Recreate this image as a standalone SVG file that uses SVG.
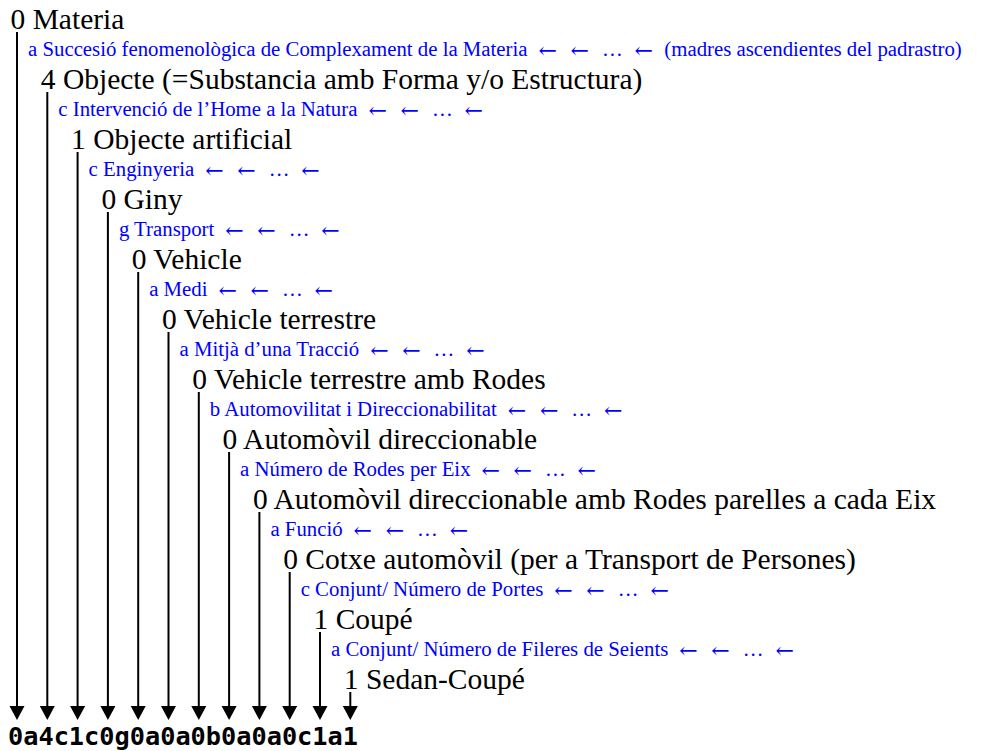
<svg xmlns="http://www.w3.org/2000/svg" width="989" height="751" viewBox="0 0 989 751">
<style>
.n{font-family:"Liberation Serif","Times New Roman",serif;font-size:29.5px;fill:#000}
.c{font-family:"Liberation Serif","Times New Roman",serif;font-size:20.8px;fill:#0000ff}
.ar{font-family:"DejaVu Serif",serif;font-size:22px}
.code{font-family:"DejaVu Sans Mono","Liberation Mono",monospace;font-weight:bold;font-size:25px;fill:#000}
.ln{stroke:#000;stroke-width:2;fill:none;marker-end:url(#ah)}
</style>
<defs>
<marker id="ah" markerUnits="userSpaceOnUse" markerWidth="15" markerHeight="16" viewBox="0 0 15 16" refX="0" refY="7.5" orient="auto">
<path d="M0,0 L14,7.5 L0,15 z" fill="#000"/>
</marker>
</defs>
<rect width="989" height="751" fill="#fff"/>
<g id="connectors">
<line class="ln" x1="17" y1="32" x2="17" y2="706"/>
<line class="ln" x1="47.3" y1="92" x2="47.3" y2="706"/>
<line class="ln" x1="77.6" y1="152" x2="77.6" y2="706"/>
<line class="ln" x1="107.9" y1="212" x2="107.9" y2="706"/>
<line class="ln" x1="138.2" y1="272" x2="138.2" y2="706"/>
<line class="ln" x1="168.5" y1="332" x2="168.5" y2="706"/>
<line class="ln" x1="198.8" y1="392" x2="198.8" y2="706"/>
<line class="ln" x1="229.1" y1="452" x2="229.1" y2="706"/>
<line class="ln" x1="259.4" y1="512" x2="259.4" y2="706"/>
<line class="ln" x1="289.7" y1="572" x2="289.7" y2="706"/>
<line class="ln" x1="320" y1="632" x2="320" y2="706"/>
<line class="ln" x1="350.3" y1="692" x2="350.3" y2="706"/>
</g>
<g id="node0"><text class="n" x="10.5" y="29">0 Materia</text></g>
<g id="crit0"><text class="c" x="28" y="56">a Succesió fenomenològica de Complexament de la Materia<tspan class="ar" dx="11" dy="1.5">←</tspan><tspan class="ar" dx="13.6">←</tspan><tspan dx="13" dy="-1.5">…</tspan><tspan class="ar" dx="11.8" dy="1.5">←</tspan><tspan dx="11.3" dy="-1.5">(madres ascendientes del padrastro)</tspan></text></g>
<g id="node1"><text class="n" x="40.8" y="89">4 Objecte (=Substancia amb Forma y/o Estructura)</text></g>
<g id="crit1"><text class="c" x="58.3" y="116">c Intervenció de l’Home a la Natura<tspan class="ar" dx="11" dy="1.5">←</tspan><tspan class="ar" dx="13.6">←</tspan><tspan dx="13" dy="-1.5">…</tspan><tspan class="ar" dx="11.8" dy="1.5">←</tspan></text></g>
<g id="node2"><text class="n" x="71.1" y="149">1 Objecte artificial</text></g>
<g id="crit2"><text class="c" x="88.6" y="176">c Enginyeria<tspan class="ar" dx="11" dy="1.5">←</tspan><tspan class="ar" dx="13.6">←</tspan><tspan dx="13" dy="-1.5">…</tspan><tspan class="ar" dx="11.8" dy="1.5">←</tspan></text></g>
<g id="node3"><text class="n" x="101.4" y="209">0 Giny</text></g>
<g id="crit3"><text class="c" x="118.9" y="236">g Transport<tspan class="ar" dx="11" dy="1.5">←</tspan><tspan class="ar" dx="13.6">←</tspan><tspan dx="13" dy="-1.5">…</tspan><tspan class="ar" dx="11.8" dy="1.5">←</tspan></text></g>
<g id="node4"><text class="n" x="131.7" y="269">0 Vehicle</text></g>
<g id="crit4"><text class="c" x="149.2" y="296">a Medi<tspan class="ar" dx="11" dy="1.5">←</tspan><tspan class="ar" dx="13.6">←</tspan><tspan dx="13" dy="-1.5">…</tspan><tspan class="ar" dx="11.8" dy="1.5">←</tspan></text></g>
<g id="node5"><text class="n" x="162" y="329">0 Vehicle terrestre</text></g>
<g id="crit5"><text class="c" x="179.5" y="356">a Mitjà d’una Tracció<tspan class="ar" dx="11" dy="1.5">←</tspan><tspan class="ar" dx="13.6">←</tspan><tspan dx="13" dy="-1.5">…</tspan><tspan class="ar" dx="11.8" dy="1.5">←</tspan></text></g>
<g id="node6"><text class="n" x="192.3" y="389">0 Vehicle terrestre amb Rodes</text></g>
<g id="crit6"><text class="c" x="209.8" y="416">b Automovilitat i Direccionabilitat<tspan class="ar" dx="11" dy="1.5">←</tspan><tspan class="ar" dx="13.6">←</tspan><tspan dx="13" dy="-1.5">…</tspan><tspan class="ar" dx="11.8" dy="1.5">←</tspan></text></g>
<g id="node7"><text class="n" x="222.6" y="449">0 Automòvil direccionable</text></g>
<g id="crit7"><text class="c" x="240.1" y="476">a Número de Rodes per Eix<tspan class="ar" dx="11" dy="1.5">←</tspan><tspan class="ar" dx="13.6">←</tspan><tspan dx="13" dy="-1.5">…</tspan><tspan class="ar" dx="11.8" dy="1.5">←</tspan></text></g>
<g id="node8"><text class="n" x="252.9" y="509">0 Automòvil direccionable amb Rodes parelles a cada Eix</text></g>
<g id="crit8"><text class="c" x="270.4" y="536">a Funció<tspan class="ar" dx="11" dy="1.5">←</tspan><tspan class="ar" dx="13.6">←</tspan><tspan dx="13" dy="-1.5">…</tspan><tspan class="ar" dx="11.8" dy="1.5">←</tspan></text></g>
<g id="node9"><text class="n" x="283.2" y="569">0 Cotxe automòvil (per a Transport de Persones)</text></g>
<g id="crit9"><text class="c" x="300.7" y="596">c Conjunt/ Número de Portes<tspan class="ar" dx="11" dy="1.5">←</tspan><tspan class="ar" dx="13.6">←</tspan><tspan dx="13" dy="-1.5">…</tspan><tspan class="ar" dx="11.8" dy="1.5">←</tspan></text></g>
<g id="node10"><text class="n" x="313.5" y="629">1 Coupé</text></g>
<g id="crit10"><text class="c" x="331" y="656">a Conjunt/ Número de Fileres de Seients<tspan class="ar" dx="11" dy="1.5">←</tspan><tspan class="ar" dx="13.6">←</tspan><tspan dx="13" dy="-1.5">…</tspan><tspan class="ar" dx="11.8" dy="1.5">←</tspan></text></g>
<g id="node11"><text class="n" x="343.8" y="689">1 Sedan-Coupé</text></g>
<g id="code"><text class="code" x="8" y="745" textLength="350" lengthAdjust="spacingAndGlyphs">0a4c1c0g0a0a0b0a0a0c1a1</text></g>
</svg>
